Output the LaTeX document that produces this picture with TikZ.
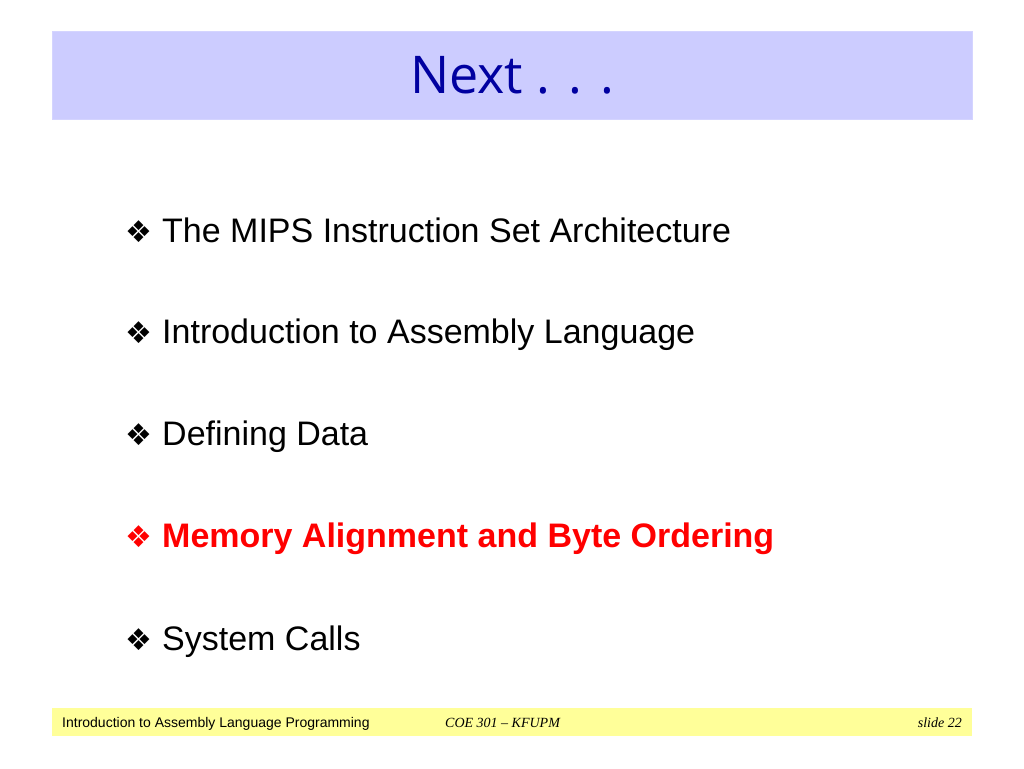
\documentclass[tikz,border=0pt]{standalone}
\usepackage{fontspec}
\setmainfont{Liberation Sans}
\newfontfamily\timesfont{Liberation Serif}
\newfontfamily\symfont{DejaVu Sans}
\newfontfamily\headfont{Open Sans}
\usepackage{tikz}
\usetikzlibrary{positioning}
\definecolor{barblue}{RGB}{204,204,255}
\definecolor{baryellow}{RGB}{255,255,153}
\definecolor{headblue}{RGB}{0,0,160}
\definecolor{hotred}{RGB}{255,0,0}
\tikzstyle{titlebar} = [rectangle, fill=barblue, draw=barblue!85!white, minimum width=920pt, minimum height=88pt, inner sep=0pt]
\tikzstyle{footbar} = [rectangle, fill=baryellow, minimum width=920pt, minimum height=28pt, inner sep=0pt]
\tikzstyle{headtext} = [font=\headfont\fontsize{52}{56}\selectfont, text=headblue, anchor=base]
\tikzstyle{item} = [font=\fontsize{34}{38}\selectfont, anchor=base west, inner sep=0pt]
\tikzstyle{hotitem} = [item, font=\bfseries\fontsize{34}{38}\selectfont, text=hotred]
\tikzstyle{foot} = [font=\fontsize{14}{16}\selectfont, anchor=base west, inner sep=0pt]
\tikzstyle{footit} = [font=\timesfont\itshape\fontsize{14}{16}\selectfont, inner sep=0pt]
\newcommand{\bul}{\makebox[37pt][l]{\symfont\fontsize{30}{34}\selectfont ❖}}

\begin{document}
\begin{tikzpicture}[x=1pt, y=-1pt]
\useasboundingbox (0,0) rectangle (1024,768);

% Bars
\node (top) [titlebar] at (512,75) {};
\node (bottom) [footbar] at (512,722) {};

% Title
\node (head) [headtext] at (512,93) {Next . . .};

% Items
\node (isa) [item] at (125,242) {\bul The MIPS Instruction Set Architecture};
\node (asm) [item] at (125,343) {\bul Introduction to Assembly Language};
\node (data) [item] at (125,445) {\bul Defining Data};
\node (align) [hotitem] at (125,547) {\bul Memory Alignment and Byte Ordering};
\node (calls) [item] at (125,650) {\bul System Calls};

% Footer
\node (course) [foot] at (62,727) {Introduction to Assembly Language Programming};
\node (coe) [footit, anchor=base west] at (445,727) {COE 301 – KFUPM};
\node (slide) [footit, anchor=base east] at (962,727) {slide 22};

\end{tikzpicture}
\end{document}
